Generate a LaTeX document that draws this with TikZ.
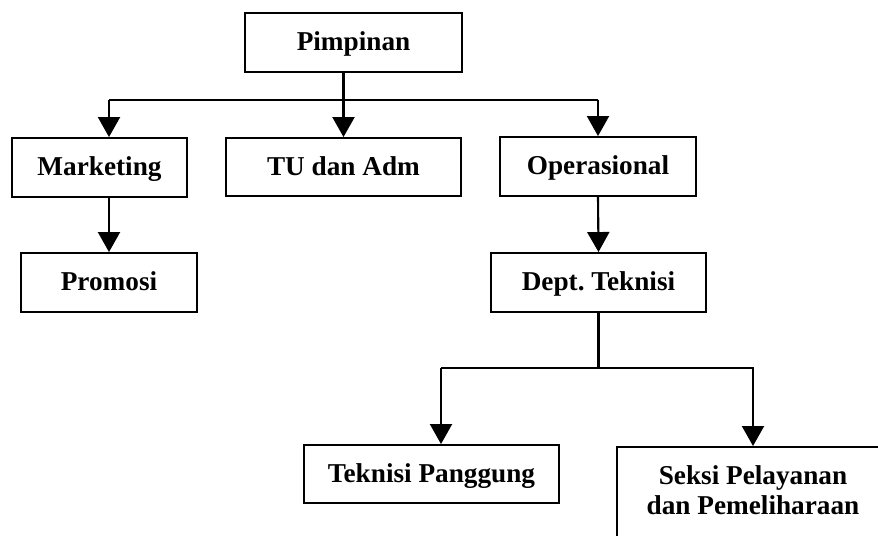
\documentclass[tikz,border=0pt]{standalone}
\usepackage{fontspec}
\setmainfont{Liberation Serif}
\usetikzlibrary{arrows.meta}

\begin{document}
\begin{tikzpicture}[x=0.02cm,y=-0.02cm,
  box/.style={draw=black,line width=1.1pt,inner sep=0pt,align=center,
    text height=12pt,text depth=2.8pt,
    font=\fontsize{15.5}{17}\selectfont\bfseries},
  link/.style={black,line width=1.2pt},
  arrow/.style={link,-{Triangle[length=0.4cm,width=0.44cm]}}]
\useasboundingbox (0,0) rectangle (878,536);
\clip (0,0) rectangle (878,536);
% boxes
\node[box,minimum width=4.34cm,minimum height=1.18cm] (pimpinan) at (353.5,42.5) {Pimpinan};
\node[box,minimum width=3.5cm,minimum height=1.18cm] (marketing) at (99.5,167.5) {Marketing};
\node[box,minimum width=4.7cm,minimum height=1.16cm] (tu) at (343.5,167) {TU dan Adm};
\node[box,minimum width=3.92cm,minimum height=1.18cm] (operasional) at (598,166.5) {Operasional};
\node[box,minimum width=3.52cm,minimum height=1.18cm] (promosi) at (109,282.5) {Promosi};
\node[box,minimum width=4.3cm,minimum height=1.18cm] (dept) at (598.5,282.5) {Dept.\ Teknisi};
\node[box,minimum width=5.1cm,minimum height=1.16cm] (panggung) at (431.5,474) {Teknisi Panggung};
\node[box,minimum width=5.44cm,minimum height=2.8cm,anchor=north,
  text height=,text depth=] (seksi) at (753,446) {};
\node[box,draw=none,text height=,text depth=] (seksitext) at (753,490)
  {Seksi Pelayanan\\dan Pemeliharaan};
% connectors
\coordinate (bus) at (0,100);
\coordinate (split) at (0,368);
\coordinate (tp) at (441,368);
\draw[arrow] (pimpinan.south -| tu) -- (tu.north);
\draw[link] (bus -| promosi) -- (bus -| operasional);
\draw[arrow] (bus -| promosi) -- (marketing.north -| promosi);
\draw[arrow] (bus -| operasional) -- (operasional.north);
\draw[arrow] (marketing.south -| promosi) -- (promosi.north);
\draw[arrow] (operasional.south) -- (dept.north);
\draw[link] (dept.south) -- (split -| dept);
\draw[arrow] (tp) -- (split -| seksi) -- (seksi.north);
\draw[arrow] (tp) -- (tp |- panggung.north);
\end{tikzpicture}
\end{document}
